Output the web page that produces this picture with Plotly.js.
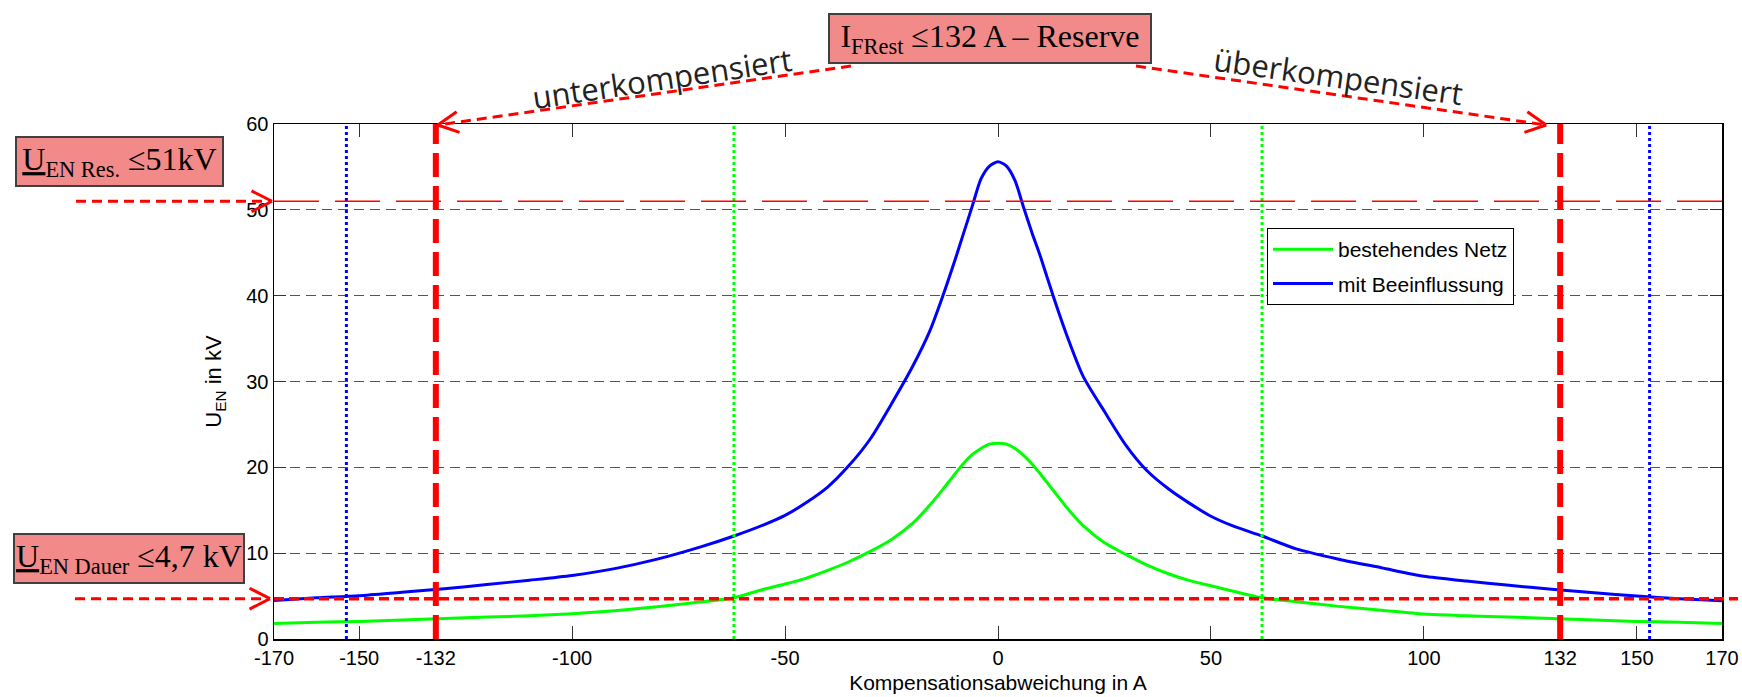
<!DOCTYPE html>
<html><head><meta charset="utf-8">
<script src="https://cdn.plot.ly/plotly-3.0.1.min.js"></script>
<style>html,body{margin:0;padding:0;background:#fff}#chart{width:1742px;height:697px}</style>
</head><body><div id="chart"></div>
<script>
// ---- data ----
const compensationA = [-170,-160,-150,-140,-130,-120,-110,-100,-90,-80,-70,-62,-55,-50,-45,-40,-35,-30,-25,-20,-16,-13,-10,-8,-6,-4,-2,0,2,4,6,8,10,13,16,20,25,30,35,40,45,50,55,62,70,80,90,100,110,120,130,140,150,160,170];
const bestehendesNetz = [1.8,1.95,2.05,2.2,2.4,2.55,2.7,2.95,3.3,3.75,4.3,4.8,5.8,6.4,7.1,8.0,9.0,10.2,11.6,13.5,15.6,17.4,19.3,20.5,21.5,22.2,22.7,22.8,22.7,22.2,21.4,20.4,19.2,17.3,15.4,13.2,11.2,9.85,8.6,7.6,6.8,6.2,5.6,4.8,4.35,3.8,3.35,2.9,2.7,2.55,2.4,2.2,2.05,1.95,1.8];
const mitBeeinflussung = [4.5,4.8,5.05,5.45,5.85,6.35,6.85,7.4,8.2,9.3,10.7,12.0,13.3,14.4,15.9,17.7,20.2,23.3,27.4,31.8,35.9,39.9,44.3,47.4,50.5,53.6,55.1,55.6,55.1,53.4,50.3,47.3,44.5,39.9,35.6,30.6,26.5,22.6,19.6,17.5,15.8,14.3,13.2,12.0,10.5,9.3,8.3,7.3,6.75,6.25,5.8,5.4,5.0,4.7,4.45];
const seriesNames = ['bestehendes Netz','mit Beeinflussung'];
const xTickVals = [-170,-150,-132,-100,-50,0,50,100,132,150,170];
const xTickText = ['-170','-150','-132','-100','-50','0','50','100','132','150','170'];
const yTickVals = [0,10,20,30,40,50,60];
const xRange = [-170,170];
const yRange = [0,60];
const IFRestLimit = 132;      // A
const UResLimit = 51;         // kV
const UDauerLimit = 4.7;      // kV
const greenCrossing = 62;     // A
const blueCrossing = 153;     // A

// ---- layout helpers (pixel -> paper) ----
const W = 1742, H = 697;
const M = {l:274, r:20, t:124, b:58};
const PW = W - M.l - M.r, PH = H - M.t - M.b;
const px = x => (x - M.l) / PW;
const py = y => (H - M.b - y) / PH;
const xToPix = v => M.l + (v - xRange[0]) / (xRange[1] - xRange[0]) * PW;
const yToPix = v => H - M.b - (v - yRange[0]) / (yRange[1] - yRange[0]) * PH;

const RED = '#ff0000';
const shapes = [];
function seg(x0,y0,x1,y1,line){ // pixel coords
  shapes.push({type:'line', xref:'paper', yref:'paper', x0:px(x0), y0:py(y0), x1:px(x1), y1:py(y1), line:line, layer:'above'});
}
function arrow(sx,sy,tx,ty){
  const dash = {color:RED, width:3, dash:'10px,6px'};
  seg(sx,sy,tx,ty,dash);
  const L = Math.hypot(tx-sx, ty-sy);
  const ux = (sx-tx)/L, uy = (sy-ty)/L;
  const a = 27*Math.PI/180, len = 23;
  [a,-a].forEach(t=>{
    const rx = ux*Math.cos(t) - uy*Math.sin(t);
    const ry = ux*Math.sin(t) + uy*Math.cos(t);
    seg(tx,ty,tx+rx*len,ty+ry*len,{color:RED, width:3});
  });
}

// vertical reference lines
[-IFRestLimit, IFRestLimit].forEach(v=>shapes.push({type:'line', xref:'x', yref:'paper', x0:v, x1:v, y0:0, y1:1, layer:'above', line:{color:RED, width:6, dash:'24px,9px'}}));
[-blueCrossing, blueCrossing].forEach(v=>shapes.push({type:'line', xref:'x', yref:'paper', x0:v, x1:v, y0:0, y1:1, layer:'above', line:{color:'#0000ff', width:3, dash:'dot'}}));
[-greenCrossing, greenCrossing].forEach(v=>shapes.push({type:'line', xref:'x', yref:'paper', x0:v, x1:v, y0:0, y1:1, layer:'above', line:{color:'#00ff00', width:3, dash:'dot'}}));

// horizontal limits
const yRes = yToPix(UResLimit), yDauer = yToPix(UDauerLimit);
seg(M.l, yRes, 1728, yRes, {color:RED, width:1.3, dash:'45px,16px'});
seg(M.l, yDauer, 1738, yDauer, {color:RED, width:3.5, dash:'10px,5px'});
arrow(76, yRes, 272, yRes);
arrow(75, yDauer, 270, yDauer);
arrow(851, 66, xToPix(-IFRestLimit)+2, M.t+1);
arrow(1136, 66, xToPix(IFRestLimit)-14, M.t+1);

const boxStyle = {showarrow:false, xref:'paper', yref:'paper', xanchor:'center', yanchor:'middle',
  bgcolor:'#f28a8a', bordercolor:'#404040', borderwidth:2, borderpad:0,
  font:{family:'Liberation Serif, Times New Roman, serif', size:32, color:'#000'}};

const annotations = [
  Object.assign({}, boxStyle, {x:px(990), y:py(38.5), width:320, height:47, text:'I<sub>FRest</sub> ≤132 A – Reserve'}),
  Object.assign({}, boxStyle, {x:px(119.5), y:py(161.5), width:205, height:47, text:'<u>U</u><sub>EN Res.</sub> ≤51kV'}),
  Object.assign({}, boxStyle, {x:px(129), y:py(558.5), width:228, height:47, text:'<u>U</u><sub>EN Dauer</sub> ≤4,7 kV'}),
  {showarrow:false, xref:'paper', yref:'paper', xanchor:'center', yanchor:'middle', x:px(662), y:py(78), text:'unterkompensiert', textangle:-8.5,
   font:{family:'Open Sans, sans-serif', size:31, color:'#222'}},
  {showarrow:false, xref:'paper', yref:'paper', xanchor:'center', yanchor:'middle', x:px(1338), y:py(76), text:'überkompensiert', textangle:8,
   font:{family:'Open Sans, sans-serif', size:31, color:'#222'}}
];

const traces = [
  {x:compensationA, y:bestehendesNetz, name:seriesNames[0], legendgroup:'g1', type:'scatter', mode:'lines', line:{color:'#00ff00', width:3, shape:'spline', smoothing:0.7}},
  {x:compensationA, y:mitBeeinflussung, name:seriesNames[1], legendgroup:'g2', type:'scatter', mode:'lines', line:{color:'#0000ff', width:3, shape:'spline', smoothing:0.7}}
];

const axisFont = {family:'Liberation Sans, Arial, sans-serif', size:20, color:'#000'};
const layout = {
  width:W, height:H, margin:{l:M.l, r:M.r, t:M.t, b:M.b, pad:0},
  paper_bgcolor:'#fff', plot_bgcolor:'#fff', showlegend:true,
  font:axisFont,
  xaxis:{range:xRange, tickvals:xTickVals, ticktext:xTickText, ticks:'inside', ticklen:13, tickwidth:1, tickcolor:'#333',
    showline:true, linecolor:'#000', linewidth:1.5, mirror:'ticks', showgrid:false, zeroline:false,
    tickfont:axisFont, title:{text:'Kompensationsabweichung in A', font:{family:axisFont.family, size:21, color:'#000'}, standoff:8}, automargin:false},
  yaxis:{range:yRange, tickvals:yTickVals, ticks:'inside', ticklen:12, tickwidth:1, tickcolor:'#333',
    showline:true, linecolor:'#000', linewidth:1.5, mirror:'ticks', showgrid:true, gridcolor:'#555', gridwidth:1, griddash:'10px,6px', zeroline:false,
    tickfont:axisFont, title:{text:'U<sub>EN</sub> in kV', font:{family:axisFont.family, size:22, color:'#000'}, standoff:18}, automargin:false},
  legend:{x:px(1267), y:py(228), xanchor:'left', yanchor:'top', bgcolor:'#fff', bordercolor:'#000', borderwidth:1,
    font:{family:axisFont.family, size:21, color:'#000'}, itemwidth:60, tracegroupgap:4},
  shapes:shapes, annotations:annotations
};
Plotly.newPlot('chart', traces, layout, {displayModeBar:false, staticPlot:true});
</script></body></html>
